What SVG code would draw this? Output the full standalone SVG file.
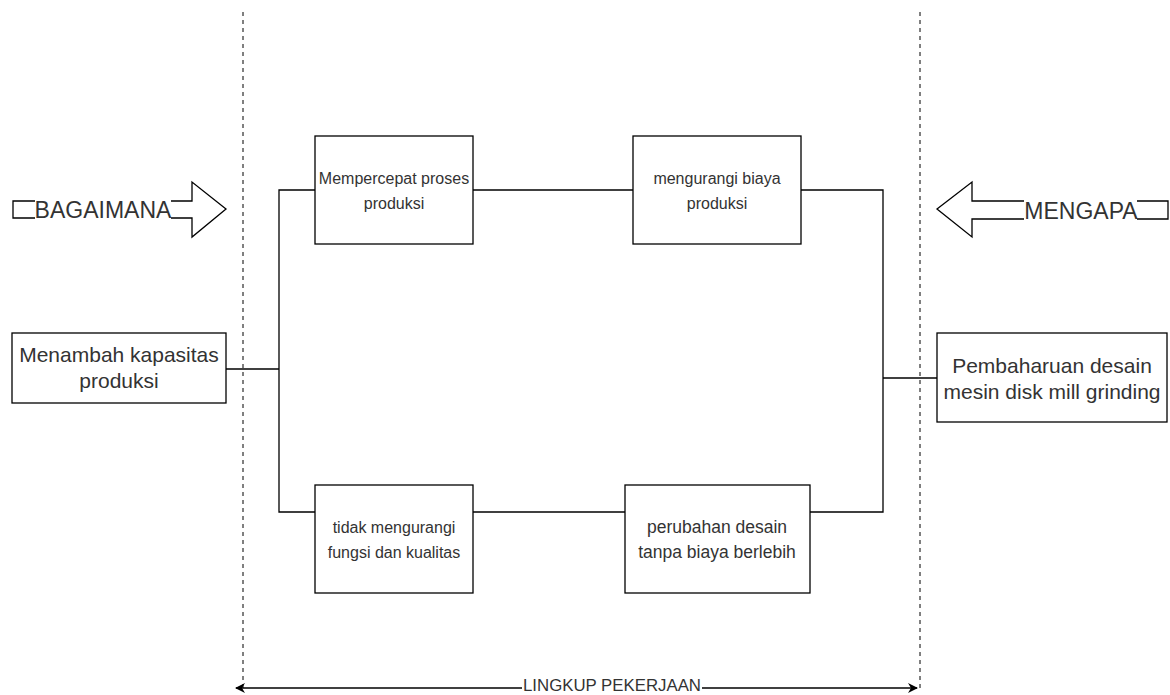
<svg xmlns="http://www.w3.org/2000/svg" width="1170" height="695" viewBox="0 0 1170 695">
<defs>
<style>
.box{fill:#fff;stroke:#000;stroke-width:1.3}
.ln{fill:none;stroke:#000;stroke-width:1.3}
.dash{fill:none;stroke:#000;stroke-width:1;stroke-dasharray:4 4}
.t{font-family:"Liberation Sans",Arial,sans-serif;font-size:16px;fill:#333;text-anchor:middle}
.big{font-size:21px}
.lab{font-size:23px}
.bg{fill:#fff}
</style>
<marker id="ah" viewBox="0 0 10 10" refX="9" refY="5" markerWidth="10" markerHeight="10" markerUnits="userSpaceOnUse" orient="auto-start-reverse">
<path d="M0,0 L10,5 L0,10 L3,5 Z" fill="#000"/>
</marker>
</defs>
<rect width="1170" height="695" fill="#fff"/>
<g id="boundaries">
<line class="dash" x1="243" y1="12" x2="243" y2="690"/>
<line class="dash" x1="920" y1="12" x2="920" y2="690"/>
</g>
<g id="connectors">
<polyline class="ln" points="226,369 279,369"/>
<polyline class="ln" points="315,190 279,190 279,512 315,512"/>
<polyline class="ln" points="473,190 633,190"/>
<polyline class="ln" points="801,190 883,190 883,512 810,512"/>
<polyline class="ln" points="625,512 473,512"/>
<polyline class="ln" points="883,378 937,378"/>
</g>
<g id="scope">
<line class="ln" x1="236" y1="688" x2="917" y2="688" marker-start="url(#ah)" marker-end="url(#ah)"/>
<rect class="bg" x="522" y="678" width="180" height="16"/>
<text class="t" x="612" y="691" style="font-size:16.5px" textLength="178" lengthAdjust="spacingAndGlyphs">LINGKUP PEKERJAAN</text>
</g>
<g id="bagaimana">
<path class="ln" d="M13,201 L192,201 L192,182 L226,209 L192,237 L192,218 L13,218 Z" fill="#fff"/>
<rect class="bg" x="35" y="199" width="136" height="21"/>
<text class="t lab" x="103" y="218">BAGAIMANA</text>
</g>
<g id="mengapa">
<path class="ln" d="M1168,201 L972,201 L972,182 L937,209 L972,237 L972,219 L1168,219 Z" fill="#fff"/>
<rect class="bg" x="1024" y="199" width="113" height="22"/>
<text class="t lab" x="1081" y="219">MENGAPA</text>
</g>
<g id="n-menambah">
<rect class="box" x="12" y="333" width="214" height="70"/>
<text class="t big" x="119" y="362">Menambah kapasitas</text>
<text class="t big" x="119" y="388">produksi</text>
</g>
<g id="n-mempercepat">
<rect class="box" x="315" y="136" width="158" height="108"/>
<text class="t" x="394" y="184">Mempercepat proses</text>
<text class="t" x="394" y="209">produksi</text>
</g>
<g id="n-mengurangi">
<rect class="box" x="633" y="136" width="168" height="108"/>
<text class="t" x="717" y="184">mengurangi biaya</text>
<text class="t" x="717" y="209">produksi</text>
</g>
<g id="n-tidak">
<rect class="box" x="315" y="485" width="158" height="108"/>
<text class="t" x="394" y="533">tidak mengurangi</text>
<text class="t" x="394" y="558">fungsi dan kualitas</text>
</g>
<g id="n-perubahan">
<rect class="box" x="625" y="485" width="185" height="108"/>
<text class="t" x="717" y="533" style="font-size:17.5px">perubahan desain</text>
<text class="t" x="717" y="558" style="font-size:17.5px">tanpa biaya berlebih</text>
</g>
<g id="n-pembaharuan">
<rect class="box" x="937" y="333" width="230" height="89"/>
<text class="t big" x="1052" y="373">Pembaharuan desain</text>
<text class="t big" x="1052" y="399">mesin disk mill grinding</text>
</g>
</svg>
